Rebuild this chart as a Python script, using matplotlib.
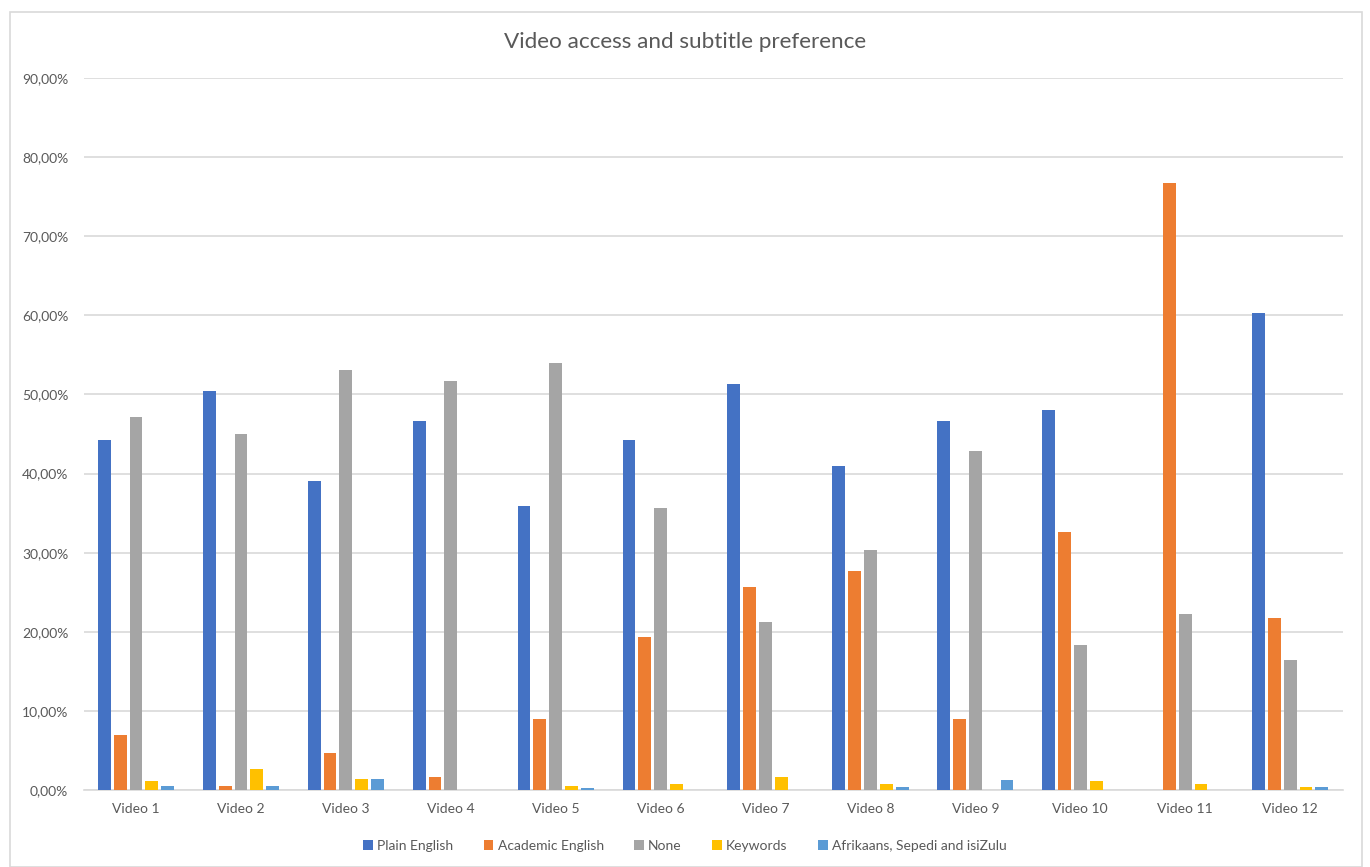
import matplotlib
matplotlib.use("Agg")
import matplotlib.pyplot as plt
from matplotlib.patches import Rectangle
from matplotlib.ticker import FuncFormatter
import numpy as np

categories = ["Video 1", "Video 2", "Video 3", "Video 4", "Video 5", "Video 6",
              "Video 7", "Video 8", "Video 9", "Video 10", "Video 11", "Video 12"]
plain_english = [44.3, 50.5, 39.1, 46.6, 35.9, 44.2, 51.3, 40.9, 46.7, 48.0, 0.0, 60.3]
academic_english = [6.9, 0.55, 4.7, 1.6, 9.0, 19.4, 25.7, 27.7, 9.0, 32.6, 76.7, 21.8]
none_pref = [47.1, 45.0, 53.1, 51.7, 54.0, 35.6, 21.3, 30.4, 42.9, 18.3, 22.3, 16.4]
keywords = [1.1, 2.7, 1.45, 0.0, 0.45, 0.7, 1.6, 0.7, 0.0, 1.1, 0.7, 0.35]
afrikaans = [0.45, 0.55, 1.45, 0.0, 0.2, 0.0, 0.0, 0.35, 1.3, 0.0, 0.0, 0.35]

series = [
    ("Plain English", plain_english, "#4472C4"),
    ("Academic English", academic_english, "#ED7D31"),
    ("None", none_pref, "#A5A5A5"),
    ("Keywords", keywords, "#FFC000"),
    ("Afrikaans, Sepedi and isiZulu", afrikaans, "#5B9BD5"),
]

plt.rcParams['font.family'] = ['Lato', 'DejaVu Sans']
text_color = "#595959"

fig = plt.figure(figsize=(13.7, 8.67), dpi=100)
ax = fig.add_axes([0.061, 0.0888, 0.919, 0.8212])

x = np.arange(len(categories))
step = 0.151
width = 0.122
for i, (name, vals, col) in enumerate(series):
    ax.bar(x + (i - 2) * step, vals, width, color=col, label=name, zorder=3)

ax.set_xlim(-0.5, len(categories) - 0.5)
ax.set_ylim(0, 90)
ax.set_yticks(np.arange(0, 91, 10))
ax.yaxis.set_major_formatter(FuncFormatter(lambda v, p: f"{v:.2f}%".replace(".", ",")))
ax.set_xticks(x)
ax.set_xticklabels(categories)
ax.tick_params(axis='both', length=0, labelsize=10, colors=text_color)
ax.tick_params(axis='y', pad=11)
ax.tick_params(axis='x', pad=9)
ax.grid(axis='y', color="#D9D9D9", linewidth=1.2, zorder=0)
for s in ["top", "right", "left"]:
    ax.spines[s].set_visible(False)
ax.spines["bottom"].set_color("#D9D9D9")
ax.spines["bottom"].set_linewidth(1.2)

fig.text(0.5, 1 - 42 / 867, "Video access and subtitle preference", ha="center", va="center",
         fontsize=16.2, color=text_color)

leg = fig.legend(loc="center", bbox_to_anchor=(0.5, 1 - 846 / 867), ncol=5, frameon=False,
                 fontsize=10, handlelength=0.7, handleheight=0.7, handletextpad=0.3,
                 columnspacing=2.2)
for t in leg.get_texts():
    t.set_color(text_color)

fig.patches.append(Rectangle((10 / 1370, 0.0), 1352 / 1370, 1 - 12 / 867,
                             transform=fig.transFigure, fill=False,
                             edgecolor="#D9D9D9", linewidth=1.2))

fig.savefig("out.png", dpi=100, facecolor="white")
